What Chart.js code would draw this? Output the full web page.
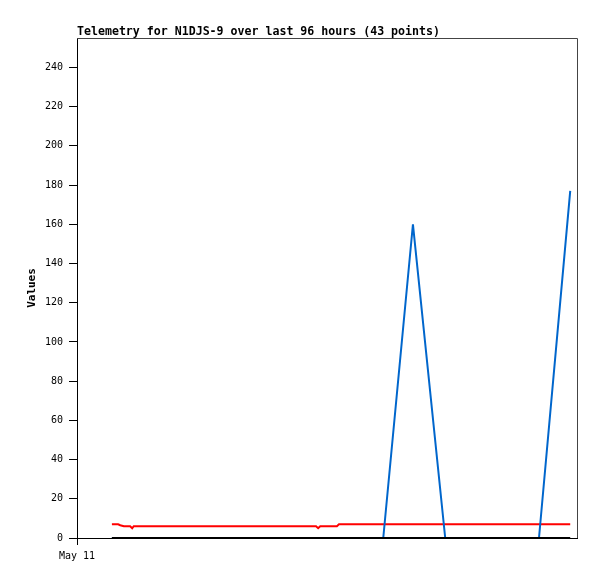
<!DOCTYPE html>
<html>
<head>
<meta charset="utf-8">
<script src="https://cdn.jsdelivr.net/npm/chart.js@4/dist/chart.umd.min.js"></script>
<style>
  html, body { margin: 0; padding: 0; background: #fff; }
  #box { width: 597px; height: 579px; }
</style>
</head>
<body>
<div id="box"><canvas id="telemetry-chart"></canvas></div>
<script>
// Hours since start of window (May 11 00:00) for each of the 43 readings
const hours = [6.7, 7.9, 8.3, 9.0, 10.2, 10.6, 10.9,
    12.7, 14.4, 16.1, 17.9, 19.6, 21.3, 23.0, 24.8, 26.5, 28.2,
    30.0, 31.7, 33.4, 35.1, 36.9, 38.6, 40.3, 42.0, 43.8,
    45.9, 46.3, 46.7, 49.9, 50.3, 52.4, 55.3,
    58.8, 64.5, 70.7, 73.5, 76.4, 79.3, 82.2, 85.1, 88.7, 94.7];

// Series values (one per reading)
const redValues = [7, 7, 6.5, 6, 6, 5, 6,
    6, 6, 6, 6, 6, 6, 6, 6, 6, 6,
    6, 6, 6, 6, 6, 6, 6, 6, 6,
    6, 5, 6, 6, 7, 7, 7,
    7, 7, 7, 7, 7, 7, 7, 7, 7, 7];
const blueValues = [0, 0, 0, 0, 0, 0, 0,
    0, 0, 0, 0, 0, 0, 0, 0, 0, 0,
    0, 0, 0, 0, 0, 0, 0, 0, 0,
    0, 0, 0, 0, 0, 0, 0,
    0, 160, 0, 0, 0, 0, 0, 0, 0, 177];
const blackValues = [0, 0, 0, 0, 0, 0, 0,
    0, 0, 0, 0, 0, 0, 0, 0, 0, 0,
    0, 0, 0, 0, 0, 0, 0, 0, 0,
    0, 0, 0, 0, 0, 0, 0,
    0, 0, 0, 0, 0, 0, 0, 0, 0, 0];

// Axis ticks
const xTickHours = [0];
const xTickLabels = ['May 11'];
const yTicks = [0, 20, 40, 60, 80, 100, 120, 140, 160, 180, 200, 220, 240];

const titleText = 'Telemetry for N1DJS-9 over last 96 hours (43 points)';

function toPoints(vals) {
    return vals.map((v, i) => ({ x: hours[i], y: v }));
}

// frame on top/right plus the title
const framePlugin = {
    id: 'frame',
    afterDraw(chart) {
        const c = chart.ctx;
        const a = chart.chartArea;
        c.save();
        c.strokeStyle = '#444';
        c.lineWidth = 1;
        c.beginPath();
        c.moveTo(a.left, a.top + 0.5);
        c.lineTo(a.right + 0.5, a.top + 0.5);
        c.lineTo(a.right + 0.5, a.bottom);
        c.stroke();
        c.fillStyle = '#000';
        c.font = 'bold 11.6px "DejaVu Sans Mono"';
        c.textBaseline = 'alphabetic';
        c.textAlign = 'left';
        c.fillText(titleText, a.left, 35);
        c.restore();
    }
};

const ctx = document.getElementById('telemetry-chart').getContext('2d');

const chart = new Chart(ctx, {
    type: 'line',
    data: {
        datasets: [
            { data: toPoints(blackValues), borderColor: '#000000', borderWidth: 2, order: 0 },
            { data: toPoints(blueValues), borderColor: '#0066cc', borderWidth: 2, order: 1 },
            { data: toPoints(redValues), borderColor: '#ff0000', borderWidth: 2, order: 2 }
        ]
    },
    options: {
        responsive: true,
        maintainAspectRatio: false,
        animation: false,
        layout: { padding: { top: 38, right: 20, left: 0, bottom: 0 } },
        elements: {
            point: { radius: 0 },
            line: { tension: 0 }
        },
        plugins: {
            legend: { display: false },
            tooltip: { enabled: false },
            title: { display: false }
        },
        scales: {
            x: {
                type: 'linear',
                min: 0,
                max: 96,
                afterBuildTicks(axis) {
                    axis.ticks = xTickHours.map(v => ({ value: v }));
                },
                afterFit(axis) { axis.height = 41; },
                ticks: {
                    color: '#000',
                    font: { family: 'DejaVu Sans Mono', size: 10 },
                    padding: 5,
                    maxRotation: 0,
                    callback: (v) => xTickLabels[xTickHours.indexOf(v)]
                },
                grid: { drawOnChartArea: false, color: '#000', tickLength: 7 },
                border: { color: '#000', width: 1 }
            },
            y: {
                type: 'linear',
                min: 0,
                max: 255,
                afterBuildTicks(axis) {
                    axis.ticks = yTicks.map(v => ({ value: v }));
                },
                afterFit(axis) { axis.width = 77; },
                ticks: {
                    color: '#000',
                    font: { family: 'DejaVu Sans Mono', size: 10 },
                    padding: 6
                },
                title: {
                    display: true,
                    text: 'Values',
                    color: '#000',
                    font: { family: 'DejaVu Sans Mono', size: 11, weight: 'bold' },
                    padding: { top: 26, bottom: 0 }
                },
                grid: { drawOnChartArea: false, color: '#000', tickLength: 8 },
                border: { color: '#000', width: 1 }
            }
        }
    },
    plugins: [framePlugin]
});
</script>
</body>
</html>
